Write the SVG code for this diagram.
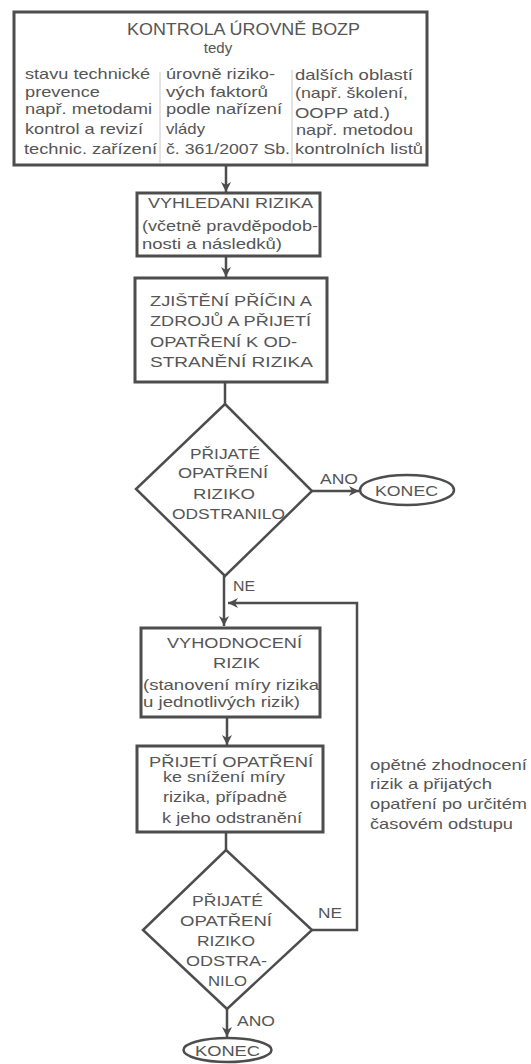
<svg xmlns="http://www.w3.org/2000/svg" width="531" height="1064" viewBox="0 0 531 1064">
<style>
text{font-family:"Liberation Sans",Arial,sans-serif;fill:#555;font-size:15px}
.t{font-size:16px}
.c{font-size:14px}
.box{fill:#fff;stroke:#4d4d4d;stroke-width:3}
.dia{fill:#fff;stroke:#4d4d4d;stroke-width:2.5}
.div{stroke:#c8c8c8;stroke-width:1}
.ln{fill:none;stroke:#4d4d4d;stroke-width:2.5}
.m{text-anchor:middle}
</style>
<defs>
<marker id="ar" markerUnits="userSpaceOnUse" markerWidth="11" markerHeight="10" refX="10" refY="5" orient="auto">
<path d="M0,0 L10,5 L0,10 L3,5 z" fill="#4d4d4d"/>
</marker>
</defs>
<g id="connectors">
<line class="ln" x1="226" y1="165" x2="226" y2="192" marker-end="url(#ar)"/>
<line class="ln" x1="226" y1="256" x2="226" y2="277" marker-end="url(#ar)"/>
<line class="ln" x1="225" y1="382" x2="225" y2="404"/>
<line class="ln" x1="312" y1="491" x2="359" y2="491" marker-end="url(#ar)"/>
<line class="ln" x1="224" y1="576" x2="224" y2="626" marker-end="url(#ar)"/>
<polyline class="ln" points="312,930 357,930 357,603 228,603" marker-end="url(#ar)"/>
<line class="ln" x1="227" y1="717" x2="227" y2="745" marker-end="url(#ar)"/>
<line class="ln" x1="226" y1="832" x2="226" y2="850"/>
<line class="ln" x1="227" y1="1009" x2="227" y2="1037" marker-end="url(#ar)"/>
</g>
<g id="kontrola">
<rect class="box" x="14" y="12" width="413" height="153"/>
<line class="div" x1="160" y1="72" x2="160" y2="163"/>
<line class="div" x1="292" y1="70" x2="292" y2="163"/>
<text class="t" x="127" y="35" textLength="233" lengthAdjust="spacingAndGlyphs">KONTROLA ÚROVNĚ BOZP</text>
<text class="m" x="218" y="53">tedy</text>
<text x="25" y="79" textLength="125" lengthAdjust="spacingAndGlyphs">stavu technické</text>
<text x="25" y="97" textLength="75" lengthAdjust="spacingAndGlyphs">prevence</text>
<text x="25" y="114" textLength="127" lengthAdjust="spacingAndGlyphs">např. metodami</text>
<text x="25" y="134" textLength="118" lengthAdjust="spacingAndGlyphs">kontrol a revizí</text>
<text x="24" y="154" textLength="133" lengthAdjust="spacingAndGlyphs">technic. zařízení</text>
<text x="166" y="79" textLength="109" lengthAdjust="spacingAndGlyphs">úrovně riziko-</text>
<text x="166" y="97" textLength="102" lengthAdjust="spacingAndGlyphs">vých faktorů</text>
<text x="166" y="114" textLength="116" lengthAdjust="spacingAndGlyphs">podle nařízení</text>
<text x="166" y="134" textLength="39" lengthAdjust="spacingAndGlyphs">vlády</text>
<text x="166" y="154" textLength="124" lengthAdjust="spacingAndGlyphs">č. 361/2007 Sb.</text>
<text x="295" y="80" textLength="118" lengthAdjust="spacingAndGlyphs">dalších oblastí</text>
<text x="295" y="98" textLength="113" lengthAdjust="spacingAndGlyphs">(např. školení,</text>
<text x="295" y="118" textLength="95" lengthAdjust="spacingAndGlyphs">OOPP atd.)</text>
<text x="296" y="135" textLength="117" lengthAdjust="spacingAndGlyphs">např. metodou</text>
<text x="295" y="154" textLength="128" lengthAdjust="spacingAndGlyphs">kontrolních listů</text>
</g>
<g id="vyhledani">
<rect class="box" x="137" y="193" width="183" height="63"/>
<text class="c" x="148" y="208" textLength="165" lengthAdjust="spacingAndGlyphs">VYHLEDANI RIZIKA</text>
<text x="142" y="231" textLength="176" lengthAdjust="spacingAndGlyphs">(včetně pravděpodob-</text>
<text x="142" y="249" textLength="140" lengthAdjust="spacingAndGlyphs">nosti a následků)</text>
</g>
<g id="zjisteni">
<rect class="box" x="135" y="278" width="192" height="104"/>
<text class="c" x="150" y="306" textLength="162" lengthAdjust="spacingAndGlyphs">ZJIŠTĚNÍ PŘÍČIN A</text>
<text class="c" x="150" y="326" textLength="161" lengthAdjust="spacingAndGlyphs">ZDROJŮ A PŘIJETÍ</text>
<text class="c" x="150" y="347" textLength="147" lengthAdjust="spacingAndGlyphs">OPATŘENÍ K OD-</text>
<text class="c" x="150" y="367" textLength="163" lengthAdjust="spacingAndGlyphs">STRANĚNÍ RIZIKA</text>
</g>
<g id="rozhodnuti1">
<polygon class="dia" points="225,404 312,491 225,576 136,489"/>
<text class="c" x="190" y="459" textLength="70" lengthAdjust="spacingAndGlyphs">PŘIJATÉ</text>
<text class="c" x="178" y="478" textLength="90" lengthAdjust="spacingAndGlyphs">OPATŘENÍ</text>
<text class="c" x="193" y="499" textLength="62" lengthAdjust="spacingAndGlyphs">RIZIKO</text>
<text class="c" x="172" y="519" textLength="113" lengthAdjust="spacingAndGlyphs">ODSTRANILO</text>
<text class="c" x="320" y="484" textLength="38" lengthAdjust="spacingAndGlyphs">ANO</text>
<text class="c" x="233" y="591" textLength="22" lengthAdjust="spacingAndGlyphs">NE</text>
</g>
<g id="konec1">
<ellipse class="dia" cx="407" cy="490" rx="47" ry="15"/>
<text class="c" x="375" y="496" textLength="63" lengthAdjust="spacingAndGlyphs">KONEC</text>
</g>
<g id="vyhodnoceni">
<rect class="box" x="141" y="628" width="179" height="89"/>
<text class="c" x="167" y="648" textLength="135" lengthAdjust="spacingAndGlyphs">VYHODNOCENÍ</text>
<text class="c" x="213" y="668" textLength="47" lengthAdjust="spacingAndGlyphs">RIZIK</text>
<text x="143" y="690" textLength="176" lengthAdjust="spacingAndGlyphs">(stanovení míry rizika</text>
<text x="143" y="707" textLength="157" lengthAdjust="spacingAndGlyphs">u jednotlivých rizik)</text>
</g>
<g id="prijeti">
<rect class="box" x="137" y="746" width="186" height="86"/>
<text class="c" x="149" y="767" textLength="164" lengthAdjust="spacingAndGlyphs">PŘIJETÍ OPATŘENÍ</text>
<text x="163" y="782" textLength="122" lengthAdjust="spacingAndGlyphs">ke snížení míry</text>
<text x="163" y="802" textLength="124" lengthAdjust="spacingAndGlyphs">rizika, případně</text>
<text x="162" y="823" textLength="140" lengthAdjust="spacingAndGlyphs">k jeho odstranění</text>
</g>
<g id="poznamka">
<text x="370" y="770" textLength="157" lengthAdjust="spacingAndGlyphs">opětné zhodnocení</text>
<text x="370" y="789" textLength="122" lengthAdjust="spacingAndGlyphs">rizik a přijatých</text>
<text x="370" y="809" textLength="157" lengthAdjust="spacingAndGlyphs">opatření po určitém</text>
<text x="370" y="829" textLength="143" lengthAdjust="spacingAndGlyphs">časovém odstupu</text>
</g>
<g id="rozhodnuti2">
<polygon class="dia" points="226,850 312,930 227,1009 143,930"/>
<text class="c" x="192" y="906" textLength="71" lengthAdjust="spacingAndGlyphs">PŘIJATÉ</text>
<text class="c" x="180" y="926" textLength="92" lengthAdjust="spacingAndGlyphs">OPATŘENÍ</text>
<text class="c" x="197" y="946" textLength="58" lengthAdjust="spacingAndGlyphs">RIZIKO</text>
<text class="c" x="186" y="966" textLength="81" lengthAdjust="spacingAndGlyphs">ODSTRA-</text>
<text class="c" x="208" y="986" textLength="39" lengthAdjust="spacingAndGlyphs">NILO</text>
<text class="c" x="318" y="918" textLength="24" lengthAdjust="spacingAndGlyphs">NE</text>
<text class="c" x="237" y="1026" textLength="38" lengthAdjust="spacingAndGlyphs">ANO</text>
</g>
<g id="konec2">
<ellipse class="dia" cx="227.5" cy="1050" rx="44" ry="12"/>
<text class="c" x="195" y="1056" textLength="65" lengthAdjust="spacingAndGlyphs">KONEC</text>
</g>
</svg>
